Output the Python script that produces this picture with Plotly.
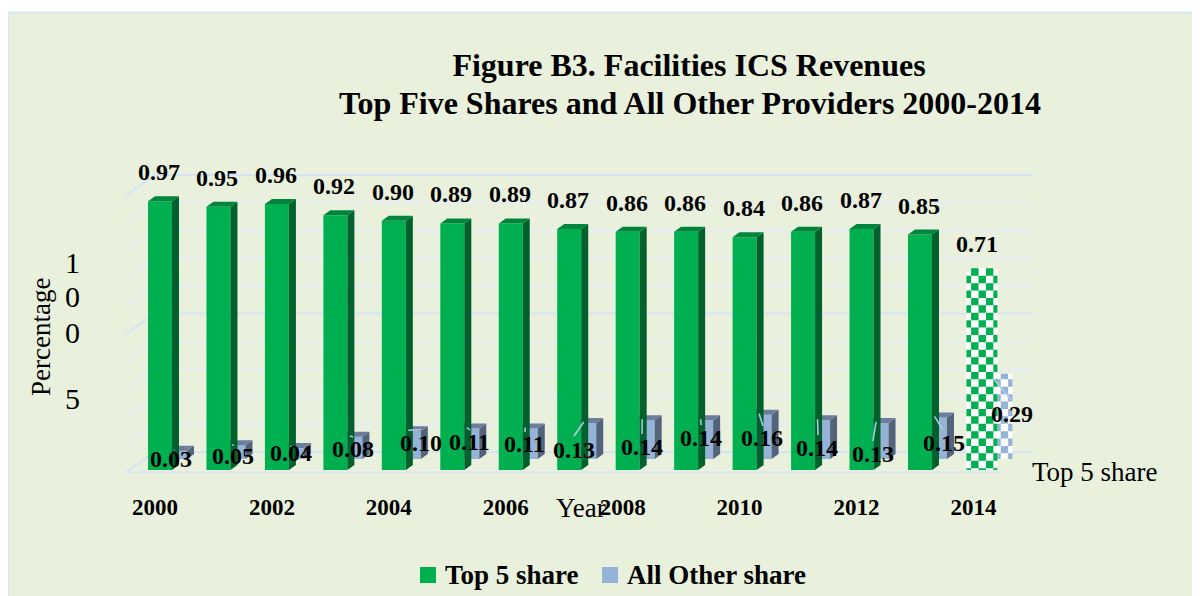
import plotly.graph_objects as go

# ---- data ----
years = list(range(2000, 2015))
tick_years = [2000, 2002, 2004, 2006, 2008, 2010, 2012, 2014]
top5_share = [0.97, 0.95, 0.96, 0.92, 0.90, 0.89, 0.89, 0.87, 0.86, 0.86, 0.84, 0.86, 0.87, 0.85, 0.71]
other_share = [0.03, 0.05, 0.04, 0.08, 0.10, 0.11, 0.11, 0.13, 0.14, 0.14, 0.16, 0.14, 0.13, 0.15, 0.29]

# ---- label placement relative to each "other" bar's front top right corner (pixels) ----
other_label_dx = [-16, -12.5, -13, -9.4, 0, -10, -13, -22, -13, -12, -10, -13, -15.5, -3, 6.6]
other_label_dy = [-9.3, -11.8, -6, -13.2, -12.7, -14.5, -16.5, -28, -28, -19, -24, -29, -32, -26.5, -36]
leader_end_dx = [-13, -12.5, -13, -9.4, 0, -9.3, -12.8, -22.2, -12.7, -12, -8.6, -12, -15.5, -4, 5.6]
leader_end_dy = [0.7, -0.8, 2, -0.2, 1.8, -1.5, -3.5, -13, -13.8, -4.8, -11.3, -14.8, -18, -12.5, -21.3]

# ---- scales / geometry (pixel constants are page pixels; the page body adds an 8px margin) ----
W, H = 1200, 596
PAGE = 8
L, R, T, B = 125, 1033, 165, 473
PX_X = 58.46      # pixels per year
PX_Y = 277.0      # pixels per unit share
TICK0_PX = 155    # pixel of the 2000 tick
ZERO_PX = 470     # pixel of value 0 on the front bars
x_range = [2000 + (L - TICK0_PX) / PX_X, 2000 + (R - TICK0_PX) / PX_X]
y_range = [(ZERO_PX - B) / PX_Y, (ZERO_PX - T) / PX_Y]
ddx, ddy = 7 / PX_X, 5 / PX_Y          # 3D extrusion
g_off, g_w = -7 / PX_X, 24 / PX_X      # green bar
o_off, o_w = 7 / PX_X, 25 / PX_X       # other bar
o_base = 11 / PX_Y                     # other bars stand further back

GREEN, GREEN_SIDE, GREEN_TOP = "#00b050", "#00612c", "#00853c"
BLUE, BLUE_SIDE, BLUE_TOP = "#95b3d7", "#52637a", "#6b7f9c"
BG = "#e9f1dc"
GRID_MAJOR, GRID_MINOR = "#d6e3f5", "#e6edf3"
FONT = "Liberation Serif"


def px_x(p):
    return (p - PAGE) / W


def px_y(p):
    return 1 - (p - PAGE) / H


def faces(xs, vals, off, w, base):
    sx, sy, tx, ty = [], [], [], []
    for x, v in zip(xs, vals):
        xl, xr = x + off, x + off + w
        top = base + v
        sx += [xr, xr + ddx, xr + ddx, xr, xr, None]
        sy += [base, base + ddy, top + ddy, top, base, None]
        tx += [xl, xr, xr + ddx, xl + ddx, xl, None]
        ty += [top, top, top + ddy, top + ddy, top, None]
    return sx, sy, tx, ty


def silhouette(x, v, off, w, base):
    xl, xr = x + off, x + off + w
    top = base + v
    return ([xl, xr, xr + ddx, xr + ddx, xr, xl + ddx, xl, xl, None],
            [base, base, base + ddy, top + ddy, top + ddy, top + ddy, top, base, None])


def checker(x, v, off, w, base, ox, oy):
    """Checker cells clipped to the 3D silhouette of one bar."""
    cx, cy = 7.4 / PX_X, 7.4 / PX_Y
    xl, xr = x + off, x + off + w + ddx
    yb, yt = base, base + v + ddy
    px, py = [], []
    for k in range(-8, 12):
        for r in range(-2, 40):
            if (k + r) % 2:
                continue
            x0, x1 = ox + k * cx, ox + (k + 1) * cx
            y1, y0 = oy - r * cy, oy - (r + 1) * cy
            x0, x1 = max(x0, xl), min(x1, xr)
            y0, y1 = max(y0, yb), min(y1, yt)
            if x1 - x0 <= 0 or y1 - y0 <= 0:
                continue
            px += [x0, x1, x1, x0, x0, None]
            py += [y0, y0, y1, y1, y0, None]
    return px, py


def poly(x, y, color, axes):
    return go.Scatter(x=x, y=y, mode="lines", fill="toself", fillcolor=color,
                      line=dict(width=0), hoverinfo="skip", showlegend=False,
                      xaxis=axes[0], yaxis=axes[1])


fig = go.Figure()
front = ("x2", "y2")
back = ("x", "y")

# green series (overlay axes, so it is drawn over the blue series)
fig.add_trace(go.Bar(x=years, y=top5_share, name="Top 5 share", width=g_w, offset=g_off,
                     marker=dict(color=[GREEN] * 14 + ["rgba(0,0,0,0)"], line=dict(width=0)),
                     xaxis="x2", yaxis="y2", hoverinfo="skip", showlegend=False))
sx, sy, tx, ty = faces(years[:14], top5_share[:14], g_off, g_w, 0)
fig.add_trace(poly(sx, sy, GREEN_SIDE, front))
fig.add_trace(poly(tx, ty, GREEN_TOP, front))

# blue series
fig.add_trace(go.Bar(x=years, y=other_share, base=o_base, name="All Other share", width=o_w, offset=o_off,
                     marker=dict(color=[BLUE] * 14 + ["rgba(0,0,0,0)"], line=dict(width=0)),
                     xaxis="x", yaxis="y", hoverinfo="skip", showlegend=False))
sx, sy, tx, ty = faces(years[:14], other_share[:14], o_off, o_w, o_base)
fig.add_trace(poly(sx, sy, BLUE_SIDE, back))
fig.add_trace(poly(tx, ty, BLUE_TOP, back))

# 2014 drawn flat with a checker fill over the whole silhouette
ox = years[14] + g_off + 4.7 / PX_X
oy = top5_share[14] + ddy
sil_x, sil_y = silhouette(years[14], other_share[14], o_off, o_w, o_base)
fig.add_trace(poly(sil_x, sil_y, "#ffffff", back))
px, py = checker(years[14], other_share[14], o_off, o_w, o_base, ox, oy)
fig.add_trace(poly(px, py, BLUE, back))
sil_x, sil_y = silhouette(years[14], top5_share[14], g_off, g_w, 0)
fig.add_trace(poly(sil_x, sil_y, "#ffffff", front))
px, py = checker(years[14], top5_share[14], g_off, g_w, 0, ox, oy)
fig.add_trace(poly(px, py, GREEN, front))

# ---- shapes ----
shapes = [dict(type="rect", xref="paper", yref="paper", layer="below",
               x0=px_x(8), x1=px_x(W + 30), y0=px_y(H + 30), y1=px_y(12.5),
               fillcolor=BG, line=dict(color="#d9e5f5", width=2))]
# back wall grid and left side wall
back_x0 = 2000 + (L + 30 - TICK0_PX) / PX_X
grid_base = (ZERO_PX - 452) / PX_Y
for i in range(11):
    gy = grid_base + i * 0.1
    color = GRID_MAJOR if i % 5 == 0 else GRID_MINOR
    shapes.append(dict(type="line", layer="below", xref="x", yref="y", x0=back_x0, x1=x_range[1],
                       y0=gy, y1=gy, line=dict(color=color, width=2)))
    shapes.append(dict(type="line", layer="below", xref="x", yref="y", x0=x_range[0], x1=back_x0,
                       y0=gy - 21 / PX_Y, y1=gy, line=dict(color=color, width=2)))
shapes.append(dict(type="line", layer="below", xref="x", yref="y",
                   x0=x_range[0], x1=2000 + (1003 - TICK0_PX) / PX_X,
                   y0=y_range[0], y1=y_range[0], line=dict(color=GRID_MAJOR, width=3)))

# leader lines
for i, yr in enumerate(years):
    shapes.append(dict(type="line", layer="above", xref="x", yref="y",
                       xsizemode="pixel", ysizemode="pixel",
                       xanchor=yr + o_off + o_w, yanchor=o_base + other_share[i],
                       x0=-12.5, y0=1, x1=leader_end_dx[i], y1=leader_end_dy[i],
                       line=dict(color="#b5cdea", width=1.5)))

# legend swatches
shapes.append(dict(type="rect", xref="paper", yref="paper", x0=px_x(420), x1=px_x(436), y0=px_y(583), y1=px_y(567),
                   fillcolor=GREEN, line=dict(width=0)))
shapes.append(dict(type="rect", xref="paper", yref="paper", x0=px_x(602), x1=px_x(618), y0=px_y(583), y1=px_y(567),
                   fillcolor=BLUE, line=dict(width=0)))

# ---- annotations ----
ann = []
val_font = dict(family=FONT, size=24, color="black", weight=700)
for i, yr in enumerate(years):
    ann.append(dict(x=yr + g_off + g_w / 2, y=top5_share[i], xref="x", yref="y", text=f"{top5_share[i]:.2f}",
                    showarrow=False, yshift=29, xshift=-1, font=val_font))
    ann.append(dict(x=yr + o_off + o_w, y=o_base + other_share[i], xref="x", yref="y",
                    text=f"{other_share[i]:.2f}", showarrow=False,
                    xshift=other_label_dx[i], yshift=other_label_dy[i] + 1, font=val_font))


def page_text(px, py, text, size, angle=0, bold=False, xanchor="center"):
    return dict(x=px_x(px), y=px_y(py), xref="paper", yref="paper", text=text, xanchor=xanchor, yanchor="middle",
                showarrow=False, textangle=angle,
                font=dict(family=FONT, size=size, color="black", weight=700 if bold else 400))


ann.append(page_text(690, 103, "Top Five Shares and All Other Providers 2000-2014", 32, bold=True))
ann.append(page_text(41, 337, "Percentage", 27, -90))
for py, ch in [(262, "1"), (296, "0"), (332, "0"), (398, "5")]:
    ann.append(page_text(72, py, ch, 30))
ann.append(page_text(581, 508, "Year", 27))
ann.append(page_text(1095, 472, "Top 5 share", 27))
ann.append(page_text(443, 575, "Top 5 share", 27, bold=True, xanchor="left"))
ann.append(page_text(625, 575, "All Other share", 27, bold=True, xanchor="left"))

fig.update_layout(
    width=W, height=H, autosize=False,
    margin=dict(l=0, r=0, t=0, b=0, pad=0),
    paper_bgcolor="#ffffff", plot_bgcolor="rgba(0,0,0,0)",
    barmode="overlay", showlegend=False,
    title=dict(text="Figure B3. Facilities ICS Revenues", x=px_x(689), xanchor="center",
               y=px_y(65), yanchor="middle",
               font=dict(family=FONT, size=32, color="black", weight=700)),
    xaxis=dict(domain=[px_x(L), px_x(R)], range=x_range, tickmode="array", tickvals=tick_years,
               ticktext=[str(t) for t in tick_years],
               ticks="", showgrid=False, zeroline=False, showline=False, ticklabelstandoff=18,
               tickfont=dict(family=FONT, size=23, color="black", weight=700)),
    yaxis=dict(domain=[px_y(B), px_y(T)], range=y_range, showgrid=False, zeroline=False,
               showticklabels=False, showline=False),
    xaxis2=dict(domain=[px_x(L), px_x(R)], range=x_range, overlaying="x", visible=False),
    yaxis2=dict(domain=[px_y(B), px_y(T)], range=y_range, overlaying="y", visible=False),
    shapes=shapes, annotations=ann,
)

fig.write_html("out.html")
